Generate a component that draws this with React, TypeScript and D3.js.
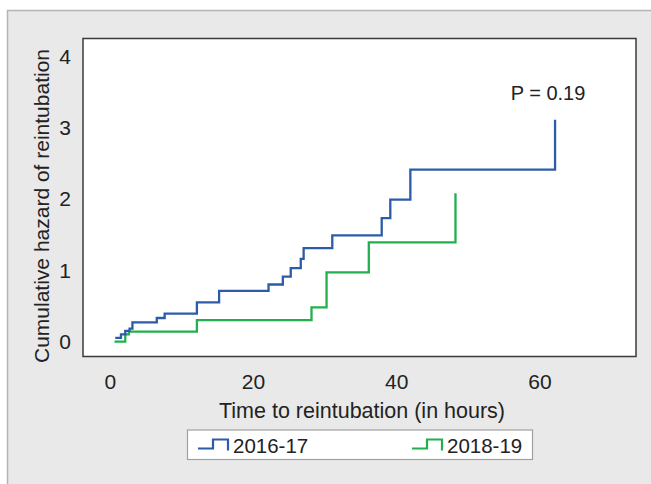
import React, { Component, createRef } from "react";
import * as d3 from "d3";

const blueTimes = [0.7, 1.5, 2.1, 2.7, 3.1, 6.5, 7.6, 12.1, 15.2, 22.1, 24.1, 25.2, 26.6, 27.0, 31.0, 37.9, 39.1, 41.9, 62.1];
const blueHazard = [0.05, 0.1, 0.15, 0.18, 0.27, 0.33, 0.39, 0.55, 0.71, 0.8, 0.91, 1.03, 1.16, 1.31, 1.49, 1.73, 1.99, 2.41, 3.11];
const greenTimes = [0.6, 2.1, 2.6, 12.1, 28.1, 30.2, 36.1, 48.2];
const greenHazard = [0.0, 0.1, 0.14, 0.3, 0.48, 0.97, 1.39, 2.08];
const xTicks = [0, 20, 40, 60];
const yTicks = [0, 1, 2, 3, 4];
const seriesNames = ["2016-17", "2018-19"];
const seriesColors = ["#2c5ca8", "#22b04e"];

const W = 651;
const H = 484;
const FONT = "'Liberation Sans', Arial, sans-serif";

class App extends Component {
  box = createRef<HTMLDivElement>();

  componentDidMount() {
    const root = d3.select(this.box.current);
    root.selectAll("*").remove();

    const svg = root
      .append("svg")
      .attr("width", W)
      .attr("height", H)
      .style("position", "absolute")
      .style("left", "0px")
      .style("top", "0px")
      .style("font-family", FONT);

    // grey panel behind everything
    svg
      .append("rect")
      .attr("x", 7.5)
      .attr("y", 10.5)
      .attr("width", W + 10)
      .attr("height", H + 10)
      .attr("fill", "#e9e9e9")
      .attr("stroke", "#b4b4b4")
      .attr("stroke-width", 1.5);

    const plot = { left: 83, top: 38.5, right: 636, bottom: 356.5 };

    const x = d3.scaleLinear().domain([-3.8, 73.4]).range([plot.left, plot.right]);
    const y = d3.scaleLinear().domain([-0.21, 4.25]).range([plot.bottom, plot.top]);

    svg
      .append("rect")
      .attr("x", plot.left)
      .attr("y", plot.top)
      .attr("width", plot.right - plot.left)
      .attr("height", plot.bottom - plot.top)
      .attr("fill", "#fff")
      .attr("stroke", "#3a3a3a")
      .attr("stroke-width", 1.5);

    // tick labels, no tick marks in the original
    svg
      .selectAll(".xt")
      .data(xTicks)
      .enter()
      .append("text")
      .attr("x", (d) => x(d))
      .attr("y", 389)
      .attr("text-anchor", "middle")
      .attr("font-size", 21)
      .attr("fill", "#222")
      .text((d) => d);

    svg
      .selectAll(".yt")
      .data(yTicks)
      .enter()
      .append("text")
      .attr("x", 71)
      .attr("y", (d) => y(d))
      .attr("dy", "0.36em")
      .attr("text-anchor", "end")
      .attr("font-size", 21)
      .attr("fill", "#222")
      .text((d) => d);

    svg
      .append("text")
      .attr("x", 362)
      .attr("y", 418)
      .attr("text-anchor", "middle")
      .attr("font-size", 21.5)
      .attr("fill", "#222")
      .text("Time to reintubation (in hours)");

    svg
      .append("text")
      .attr("transform", "translate(49,206) rotate(-90)")
      .attr("text-anchor", "middle")
      .attr("font-size", 21)
      .attr("fill", "#222")
      .text("Cumulative hazard of reintubation");

    svg
      .append("text")
      .attr("x", 548)
      .attr("y", 100)
      .attr("text-anchor", "middle")
      .attr("font-size", 20)
      .attr("fill", "#222")
      .text("P = 0.19");

    const line = d3
      .line<[number, number]>()
      .x((d) => x(d[0]))
      .y((d) => y(d[1]))
      .curve(d3.curveStepAfter);

    const series = [
      blueTimes.map((t, i) => [t, blueHazard[i]] as [number, number]),
      greenTimes.map((t, i) => [t, greenHazard[i]] as [number, number]),
    ];

    // green first so blue sits on top where they overlap
    [1, 0].forEach((k) => {
      svg
        .append("path")
        .attr("d", line(series[k]))
        .attr("fill", "none")
        .attr("stroke", seriesColors[k])
        .attr("stroke-width", 2.3);
    });

    // legend
    svg
      .append("rect")
      .attr("x", 187.5)
      .attr("y", 430)
      .attr("width", 345)
      .attr("height", 29.5)
      .attr("fill", "#fff")
      .attr("stroke", "#a0a0a0")
      .attr("stroke-width", 1.2);

    const legendX = [198, 412];
    legendX.forEach((lx, k) => {
      const icon = `M${lx},448.5 H${lx + 15} V439.5 H${lx + 30} V450.5`;
      svg
        .append("path")
        .attr("d", icon)
        .attr("fill", "none")
        .attr("stroke", seriesColors[k])
        .attr("stroke-width", 2.2);
      svg
        .append("text")
        .attr("x", lx + 35)
        .attr("y", 452.5)
        .attr("font-size", 20.5)
        .attr("fill", "#222")
        .text(seriesNames[k]);
    });
  }

  render() {
    return <div ref={this.box}></div>;
  }
}

export default App;
